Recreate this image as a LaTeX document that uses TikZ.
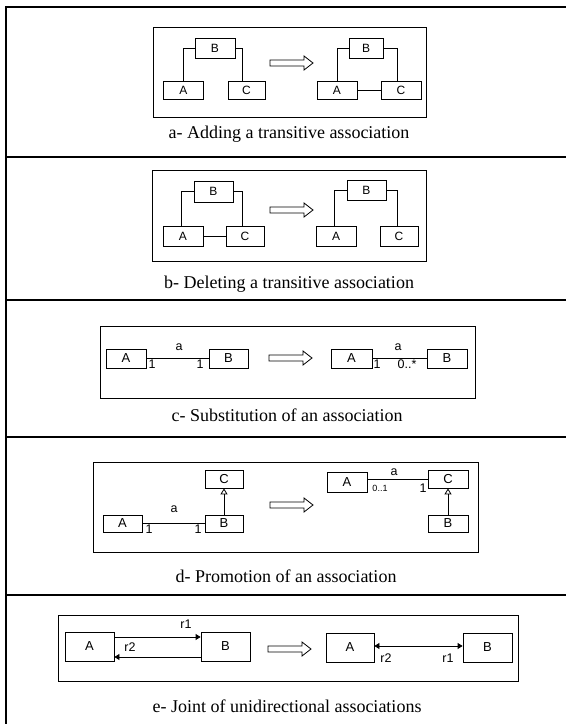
\documentclass[tikz,border=0pt]{standalone}
\usepackage{fontspec}
\setmainfont{Liberation Serif}
\setsansfont{Liberation Sans}
\usetikzlibrary{arrows.meta}

\newcommand{\fatarrow}[1]{%
  \draw[line width=0.8pt] (#1) ++(0,-3) -- ++(34,0) -- ++(0,-4) -- ++(9,7)
    -- ++(-9,7) -- ++(0,-4) -- ++(-34,0) -- cycle;}

\begin{document}
\begin{tikzpicture}[x=1pt,y=-1pt,
    cls/.style={draw,line width=0.8pt,inner sep=0pt,minimum width=40pt,minimum height=19pt,
      font=\sffamily\fontsize{12}{12}\selectfont},
    big/.style={font=\sffamily\fontsize{13}{13}\selectfont},
    assoc/.style={line width=0.8pt},
    mult/.style={inner sep=0pt,font=\sffamily\fontsize{12.5}{12.5}\selectfont},
    small/.style={inner sep=0pt,font=\sffamily\fontsize{9}{9}\selectfont},
    caption/.style={inner sep=0pt,anchor=base,font=\fontsize{18}{18}\selectfont},
    panel/.style={line width=1pt},
    frame/.style={line width=1.3pt}]
    \useasboundingbox (0,0) rectangle (566,724);

    \draw[frame] (6,724) -- (6,7) -- (566,7);
    \foreach \y in {157,300,437,595}
        \draw[frame] (6,\y) -- (566,\y);

    % a
    \draw[panel] (153,27) rectangle (426,117);
    \node[cls,minimum height=20pt] (aB1) at (215,48) {B};
    \node[cls,minimum height=18pt] (aA1) at (183.5,90) {A};
    \node[cls,minimum width=37pt,minimum height=18pt] (aC1) at (246.5,90) {C};
    \draw[assoc] (aB1.west) -| (aA1.north);
    \draw[assoc] (aB1.east) -| ([xshift=-4pt]aC1.north);
    \fatarrow{270,63}
    \node[cls,minimum width=34pt,minimum height=20pt] (aB2) at (366,48) {B};
    \node[cls,minimum height=18pt] (aA2) at (337,90) {A};
    \node[cls,minimum height=18pt] (aC2) at (401,90) {C};
    \draw[assoc] (aB2.west) -| (aA2.north);
    \draw[assoc] (aB2.east) -| ([xshift=-4pt]aC2.north);
    \draw[assoc] (aA2) -- (aC2);
    \node[caption] (capa) at (289,138) {a- Adding a transitive association};

    % b
    \draw[panel] (152,170) rectangle (426,261);
    \node[cls,minimum width=39pt,minimum height=21pt] (bB1) at (213.5,191.5) {B};
    \node[cls,minimum height=20pt] (bA1) at (183,236) {A};
    \node[cls,minimum width=38pt,minimum height=20pt] (bC1) at (245,236) {C};
    \draw[assoc] (bB1.west) -| ([xshift=-2pt]bA1.north);
    \draw[assoc] (bB1.east) -| ([xshift=-3pt]bC1.north);
    \draw[assoc] (bA1) -- (bC1);
    \fatarrow{270,210}
    \node[cls,minimum width=39pt,minimum height=20pt] (bB2) at (366.5,190) {B};
    \node[cls,minimum height=20pt] (bA2) at (336,236) {A};
    \node[cls,minimum width=38pt,minimum height=20pt] (bC2) at (399,236) {C};
    \draw[assoc] (bB2.west) -| ([xshift=-2pt]bA2.north);
    \draw[assoc] (bB2.east) -| ([xshift=-2pt]bC2.north);
    \node[caption] (capb) at (289,288) {b- Deleting a transitive association};

    % c
    \draw[panel] (100,326) rectangle (475,398);
    \node[cls,big] (cA1) at (126,358.5) {A};
    \node[cls,big,minimum width=39pt] (cB1) at (228.5,358.5) {B};
    \draw[assoc] (cA1) -- (cB1);
    \node[mult] (ca1) at (179,347) {a};
    \node[mult] (cm1) at (152,364) {1};
    \node[mult] (cm2) at (200,364) {1};
    \fatarrow{269,358}
    \node[cls,big,minimum width=41pt] (cA2) at (351.5,358.5) {A};
    \node[cls,big] (cB2) at (447,358.5) {B};
    \draw[assoc] (cA2) -- (cB2);
    \node[mult] (ca2) at (398,347) {a};
    \node[mult] (cm3) at (377,364) {1};
    \node[mult] (cm4) at (407,364) {0..*};
    \node[caption] (capc) at (287,421) {c- Substitution of an association};

    % d
    \draw[panel] (93,462) rectangle (478,552);
    \node[cls,big,minimum width=39pt,minimum height=17pt] (dA1) at (122.5,523.5) {A};
    \node[cls,big,minimum width=38pt,minimum height=17pt] (dB1) at (224,523.5) {B};
    \node[cls,big,minimum width=38pt,minimum height=18pt] (dC1) at (224,479) {C};
    \draw[assoc] (dA1) -- (dB1);
    \draw[assoc,-{Triangle[open,length=6pt,width=7pt]}] (dB1) -- (dC1);
    \node[mult] (da1) at (174,509) {a};
    \node[mult] (dm1) at (149,529) {1};
    \node[mult] (dm2) at (198,529) {1};
    \fatarrow{270,505}
    \node[cls,big,minimum height=20pt] (dA2) at (347,482) {A};
    \node[cls,big,minimum height=18pt] (dC2) at (448,479) {C};
    \node[cls,big,minimum height=17pt] (dB2) at (448,523.5) {B};
    \draw[assoc] (dA2.east |- dC2.west) -- (dC2.west);
    \draw[assoc,-{Triangle[open,length=6pt,width=7pt]}] (dB2) -- (dC2);
    \node[mult] (da2) at (394,472) {a};
    \node[small] (dm3) at (380,488) {0..1};
    \node[mult] (dm4) at (423,488) {1};
    \node[caption] (capd) at (286,582) {d- Promotion of an association};

    % e
    \draw[panel] (58,615) rectangle (518,681);
    \node[cls,big,minimum width=49pt,minimum height=29pt] (eA1) at (89.5,646.5) {A};
    \node[cls,big,minimum width=49pt,minimum height=29pt] (eB1) at (225.5,646.5) {B};
    \draw[assoc,-{Triangle[length=5pt,width=6pt]}] ([yshift=9.5pt]eA1.east) -- ([yshift=9.5pt]eB1.west);
    \draw[assoc,-{Triangle[length=5pt,width=6pt]}] ([yshift=-10.5pt]eB1.west) -- ([yshift=-10.5pt]eA1.east);
    \node[mult] (er1) at (186,624) {r1};
    \node[mult] (er2) at (130,647) {r2};
    \fatarrow{268,649}
    \node[cls,big,minimum width=48pt,minimum height=29pt] (eA2) at (350,647.5) {A};
    \node[cls,big,minimum width=49pt,minimum height=29pt] (eB2) at (487.5,647.5) {B};
    \draw[assoc,{Triangle[length=5pt,width=6pt]}-{Triangle[length=5pt,width=6pt]}] ([yshift=1.5pt]eA2.east) -- ([yshift=1.5pt]eB2.west);
    \node[mult] (er3) at (386,658) {r2};
    \node[mult] (er4) at (448,658) {r1};
    \node[caption] (cape) at (287,712) {e- Joint of unidirectional associations};
\end{tikzpicture}
\end{document}
